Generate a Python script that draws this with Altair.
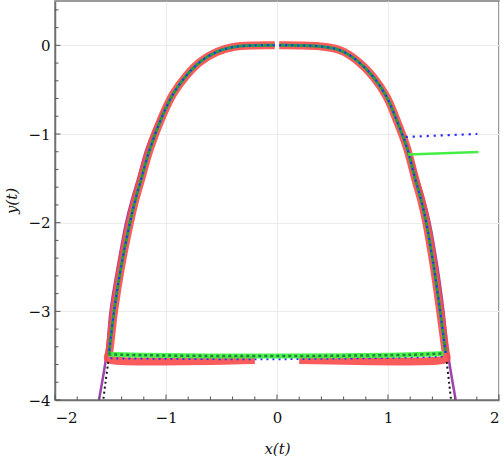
import altair as alt
import pandas as pd

W, H = 444, 399

# Left branch of the closed curve, from the top down to the lower corner
left_x = [-0.02, -0.2, -0.394, -0.543, -0.694, -0.814, -0.934, -1.03, -1.144, -1.226, -1.278, -1.325, -1.405, -1.468, -1.513]
left_y = [0.0, -0.001, -0.019, -0.075, -0.188, -0.338, -0.545, -0.79, -1.164, -1.52, -1.75, -2.0, -2.5, -3.0, -3.47]

# Right branch, top down to the lower corner
right_x = [0.02, 0.2, 0.387, 0.568, 0.718, 0.868, 0.988, 1.078, 1.168, 1.248, 1.3, 1.345, 1.413, 1.47, 1.52]
right_y = [0.0, -0.001, -0.012, -0.056, -0.169, -0.357, -0.582, -0.845, -1.146, -1.52, -1.75, -2.0, -2.5, -3.0, -3.47]

# Bottom edges (x, y) for each trace
red_bottom_left_x = [-1.525, -1.49, -0.2]
red_bottom_left_y = [-3.53, -3.55, -3.55]
red_bottom_right_x = [1.528, 1.49, 0.2]
red_bottom_right_y = [-3.53, -3.55, -3.55]

green_bottom_x = [-1.52, -1.2, -0.6, 0.0, 0.6, 1.2, 1.5]
green_bottom_y = [-3.485, -3.495, -3.503, -3.505, -3.5, -3.49, -3.475]

blue_bottom_x = [-1.5, -1.0, -0.4, 0.0, 0.4, 1.0, 1.5]
blue_bottom_y = [-3.53, -3.535, -3.54, -3.54, -3.535, -3.525, -3.51]

# Outer envelope
purple_left_x = [-0.3, -0.543, -0.694, -0.814, -0.94, -1.05, -1.17, -1.255, -1.31, -1.36, -1.435, -1.5, -1.534, -1.604]
purple_left_y = [-0.005, -0.075, -0.188, -0.338, -0.55, -0.8, -1.15, -1.52, -1.75, -2.0, -2.5, -3.0, -3.47, -4.0]
purple_right_x = [0.3, 0.568, 0.718, 0.868, 0.99, 1.085, 1.18, 1.27, 1.325, 1.375, 1.445, 1.5, 1.54, 1.61]
purple_right_y = [-0.005, -0.056, -0.169, -0.357, -0.585, -0.85, -1.15, -1.52, -1.75, -2.0, -2.5, -3.0, -3.47, -4.0]

# Dotted black tails below the corners
black_left_x = [-1.52, -1.545, -1.565]
black_left_y = [-3.57, -3.8, -4.0]
black_right_x = [1.529, 1.55, 1.568]
black_right_y = [-3.57, -3.8, -4.0]

# Short side segments on the right
blue_seg_x = [1.159, 1.805]
blue_seg_y = [-1.033, -0.999]
green_seg_x = [1.183, 1.814]
green_seg_y = [-1.232, -1.202]

# Axis ticks
x_ticks = [-2, -1, 0, 1, 2]
y_ticks = [-4, -3, -2, -1, 0]
x_minor = [round(-2 + 0.2 * k, 1) for k in range(21)]
y_minor = [round(-4 + 0.2 * k, 1) for k in range(23)]

SERIF = "DejaVu Serif"
xscale = alt.Scale(domain=[-2, 2], nice=False, zero=False)
yscale = alt.Scale(domain=[-4, 0.5], nice=False, zero=False)

common_axis = dict(format="d", tickSize=0, grid=True, gridColor="#ebebeb", gridWidth=1,
                   domainColor="#707070", domainWidth=1.5)
x_axis = alt.Axis(values=x_ticks, labelPadding=10, titlePadding=16, **common_axis)
y_axis = alt.Axis(values=y_ticks, labelPadding=5, titlePadding=8, **common_axis)


def X(field="x"):
    return alt.X(f"{field}:Q", scale=xscale, axis=x_axis, title="x(t)")


def Y(field="y"):
    return alt.Y(f"{field}:Q", scale=yscale, axis=y_axis, title="y(t)")


def path(xs, ys, name):
    return pd.DataFrame({"x": xs, "y": ys, "i": list(range(len(xs))), "s": name})


def line(df, color, width, dash=None, opacity=1.0, smooth=True):
    kw = dict(color=color, strokeWidth=width, opacity=opacity, clip=True,
              strokeCap="butt", strokeJoin="round")
    if smooth:
        kw["interpolate"] = "catmull-rom"
    if dash:
        kw["strokeDash"] = dash
    return alt.Chart(df).mark_line(**kw).encode(
        x=X(), y=Y(), order="i:Q", detail="s:N",
    )


# Inward tick marks
xt = pd.DataFrame({"x": x_minor, "major": [v in x_ticks for v in x_minor]})
yt = pd.DataFrame({"y": y_minor, "major": [v in y_ticks for v in y_minor]})
x_minor_rules = alt.Chart(xt[~xt.major]).mark_rule(color="#555", strokeWidth=1).encode(
    x=X(), y=alt.value(H), y2=alt.value(H - 3.5))
x_major_rules = alt.Chart(xt[xt.major]).mark_rule(color="#555", strokeWidth=1).encode(
    x=X(), y=alt.value(H), y2=alt.value(H - 5.5))
y_minor_rules = alt.Chart(yt[~yt.major]).mark_rule(color="#555", strokeWidth=1).encode(
    y=Y(), x=alt.value(0), x2=alt.value(3.5))
y_major_rules = alt.Chart(yt[yt.major]).mark_rule(color="#555", strokeWidth=1).encode(
    y=Y(), x=alt.value(0), x2=alt.value(5.5))

purple = line(pd.concat([path(purple_left_x, purple_left_y, "l"),
                         path(purple_right_x, purple_right_y, "r")]),
              "#9b45ad", 2.5)

red = line(pd.concat([path(left_x + red_bottom_left_x, left_y + red_bottom_left_y, "l"),
                      path(right_x + red_bottom_right_x, right_y + red_bottom_right_y, "r")]),
           "#fa4a4a", 8, opacity=0.9)

black = line(pd.concat([path(black_left_x, black_left_y, "l"),
                        path(black_right_x, black_right_y, "r")]),
             "#111111", 2, dash=[2, 3])

blue_bottom = line(path(blue_bottom_x, blue_bottom_y, "b"), "#2b2bff", 2, dash=[2, 4])
green_band = line(path(green_bottom_x, green_bottom_y, "b"), "#3ef03e", 5, opacity=0.9)
green_band_dots = line(path(green_bottom_x, green_bottom_y, "b"), "#1a8a3a", 2.5, dash=[3, 3])

green = line(pd.concat([path(left_x, left_y, "l"), path(right_x, right_y, "r")]),
             "#1e9e4a", 3)

blue = line(pd.concat([path(left_x, left_y, "l"), path(right_x, right_y, "r")]),
            "#2b2bff", 2, dash=[2, 4])

blue_seg = line(path(blue_seg_x, blue_seg_y, "s"), "#2b2bff", 2.2, dash=[2.2, 4.8], smooth=False)
green_seg = line(path(green_seg_x, green_seg_y, "s"), "#44ee44", 2.5, smooth=False)

chart = alt.layer(
    purple, red, black, blue_bottom, green_band, green_band_dots, green, blue,
    blue_seg, green_seg,
    x_minor_rules, x_major_rules, y_minor_rules, y_major_rules,
).properties(
    width=W, height=H,
    padding={"left": 55, "top": 1, "right": 5, "bottom": 61},
    autosize=alt.AutoSizeParams(type="none"),
).configure(
    font=SERIF
).configure_axis(
    labelFont=SERIF, labelFontSize=15, labelColor="#111",
    titleFont=SERIF, titleFontStyle="italic", titleFontWeight="normal",
    titleFontSize=15, titleColor="#111",
).configure_view(
    stroke="#7a7a7a", strokeWidth=1.5
)

chart.save("out.html", embed_options={"renderer": "svg", "actions": False})
